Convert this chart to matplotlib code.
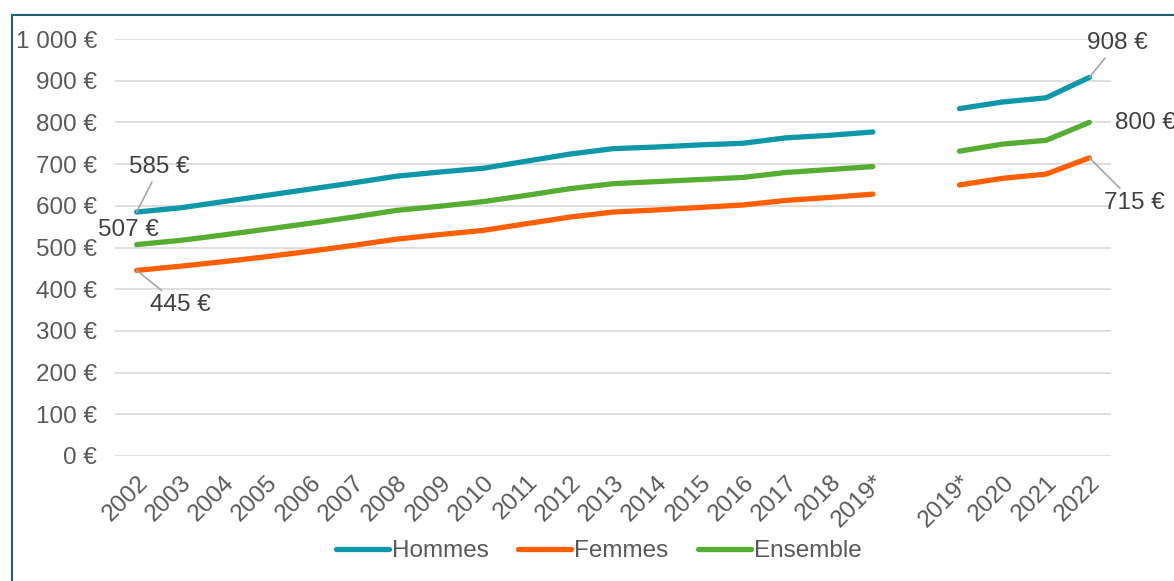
import numpy as np
import matplotlib.pyplot as plt
from matplotlib.patches import Rectangle

# categories (empty slot separates the two series breaks)
annees = ["2002", "2003", "2004", "2005", "2006", "2007", "2008", "2009", "2010",
          "2011", "2012", "2013", "2014", "2015", "2016", "2017", "2018", "2019*",
          "", "2019*", "2020", "2021", "2022"]

nan = np.nan
hommes = [585, 595, 610, 625, 640, 655, 671, 681, 690, 707, 724, 737, 741, 746,
          750, 763, 769, 777, nan, 833, 849, 859, 908]
femmes = [445, 455, 466, 478, 491, 505, 520, 531, 541, 557, 573, 585, 590, 596,
          602, 613, 620, 628, nan, 650, 666, 676, 715]
ensemble = [507, 517, 530, 544, 558, 573, 589, 599, 610, 625, 641, 653, 658, 663,
            668, 680, 687, 694, nan, 731, 748, 757, 800]

yticks = [0, 100, 200, 300, 400, 500, 600, 700, 800, 900, 1000]
ylabels = ["0 €", "100 €", "200 €", "300 €", "400 €", "500 €", "600 €",
           "700 €", "800 €", "900 €", "1 000 €"]

COL_H = "#0E97A8"
COL_F = "#FF5F00"
COL_E = "#55AE32"
TXT = "#595959"
FS = 17.5

plt.rcParams["font.family"] = ["Liberation Sans", "DejaVu Sans"]

fig = plt.figure(figsize=(11.74, 5.81), dpi=100)
ax = fig.add_axes([115 / 1174, 1 - 456 / 581, (1111 - 115) / 1174, (456 - 39) / 581])

x = np.arange(len(annees))
style = dict(lw=3.8, solid_capstyle="round", solid_joinstyle="round")
ax.plot(x, hommes, color=COL_H, label="Hommes", **style)
ax.plot(x, femmes, color=COL_F, label="Femmes", **style)
ax.plot(x, ensemble, color=COL_E, label="Ensemble", **style)

ax.set_xlim(-0.5, len(annees) - 0.5)
ax.set_ylim(0, 1000)
ax.set_yticks(yticks)
ax.set_yticklabels(ylabels, fontsize=FS, color=TXT)
ax.set_xticks(x)
ax.set_xticklabels(annees, rotation=45, ha="right", va="top",
                   rotation_mode="anchor", fontsize=FS, color=TXT)
ax.tick_params(axis="both", length=0)
ax.tick_params(axis="y", pad=13)
ax.tick_params(axis="x", pad=11)
ax.grid(axis="y", color="#D9D9D9", lw=1.2)
ax.set_axisbelow(True)
for s in ax.spines.values():
    s.set_visible(False)

# value labels
lead = dict(arrowstyle="-", color="#A6A6A6", lw=1.2, shrinkA=1, shrinkB=0)
kw = dict(fontsize=FS, color="#404040", annotation_clip=False)
ax.annotate("585 €", xy=(0, hommes[0]), xytext=(0.53, 693), ha="center", va="center",
            arrowprops=lead, **kw)
ax.annotate("507 €", xy=(0, ensemble[0]), xytext=(-0.18, 542), ha="center", va="center", **kw)
ax.annotate("445 €", xy=(0, femmes[0]), xytext=(1.0, 362), ha="center", va="center",
            arrowprops=lead, **kw)
ax.annotate("908 €", xy=(22, hommes[-1]), xytext=(22.64, 990), ha="center", va="center",
            arrowprops=lead, **kw)
ax.annotate("800 €", xy=(22, ensemble[-1]), xytext=(22.6, 799), ha="left", va="center", **kw)
ax.annotate("715 €", xy=(22, femmes[-1]), xytext=(23.05, 607), ha="center", va="center",
            arrowprops=lead, **kw)

leg = fig.legend(loc="center", bbox_to_anchor=(0.51, 1 - 551 / 581), ncol=3, frameon=False,
                 fontsize=FS, handlelength=2.2, handletextpad=0.12, columnspacing=1.2)
for t in leg.get_texts():
    t.set_color(TXT)

fig.patches.append(Rectangle((12 / 1174, -0.1), 1.2, 1 - 15 / 581 + 0.1, transform=fig.transFigure,
                             fill=False, edgecolor="#1F6079", lw=1.5))

fig.savefig("out.png", dpi=100)
